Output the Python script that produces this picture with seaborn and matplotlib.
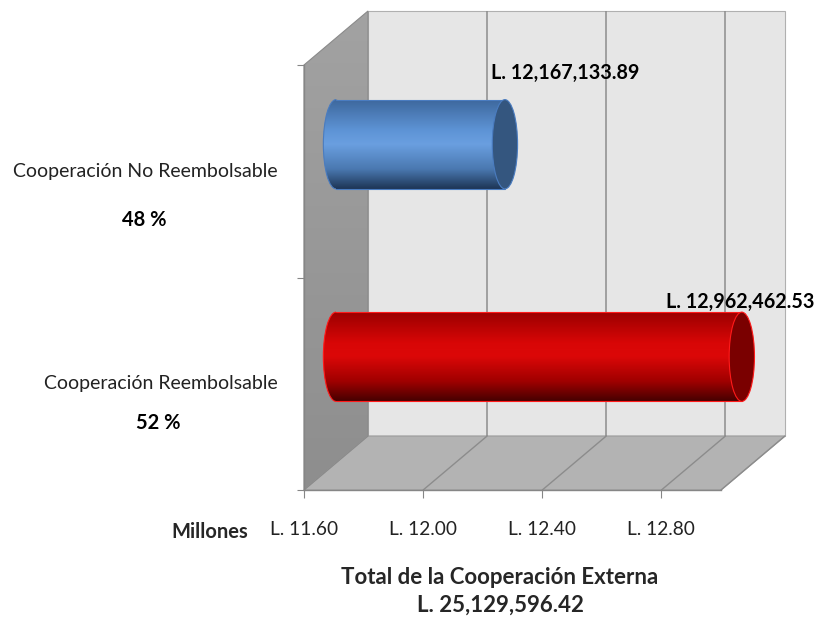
import numpy as np
import matplotlib
matplotlib.use('Agg')
import matplotlib.pyplot as plt
import matplotlib.transforms as mtransforms
from matplotlib.patches import Polygon, Ellipse, Arc, Rectangle
from matplotlib.colors import LinearSegmentedColormap
import seaborn as sns

# ---- data (millones de lempiras) ----
categories = ['Cooperación No Reembolsable', 'Cooperación Reembolsable']
shares = ['48 %', '52 %']
values = [12.16713389, 12.96246253]
value_labels = ['L. 12,167,133.89', 'L. 12,962,462.53']
xticks = [11.6, 12.0, 12.4, 12.8]
xtick_labels = ['L. 11.60', 'L. 12.00', 'L. 12.40', 'L. 12.80']
title_lines = ['Total de la Cooperación Externa', 'L. 25,129,596.42']
x_min, x_max = 11.6, 13.0

bar_gradients = [
    ['#3d679c', '#5e94d6', '#6a9fe0', '#4a78b0', '#1d3555'],
    ['#990000', '#d80606', '#dc0808', '#a00000', '#470000'],
]
cap_colors = ['#34567f', '#7a0000']
edge_colors = ['#4a7cc0', '#ff1a1a']

sns.set_style('white')
plt.rcParams['font.family'] = ['Lato', 'DejaVu Sans']

fig = plt.figure(figsize=(8.17, 6.21), dpi=100)
fig.patch.set_facecolor('white')
ax = fig.add_axes([304 / 817, 131 / 621, 417 / 817, 425 / 621])
ax.patch.set_visible(False)

sns.barplot(x=values, y=categories, hue=categories, palette=['#4f81bd', '#c00000'],
            width=0.42, legend=False, orient='y', ax=ax)
ax.set_xlim(x_min, x_max)
ax.set_ylim(1.5, -0.5)


def shifted(f):
    # depth offset of the fake 3D box (fraction of full depth)
    return ax.transData + mtransforms.ScaledTranslation(0.64 * f, 0.54 * f, fig.dpi_scale_trans)


mid = shifted(0.5)
back = shifted(1.0)
ident = mtransforms.IdentityTransform()


def pt(x, y, f):
    return shifted(f).transform((x, y))


# back wall, side wall, floor
ax.add_patch(Rectangle((x_min, -0.5), x_max - x_min, 2.0, transform=back, fc='#e6e6e6',
                       ec='#b0b0b0', lw=0.8, zorder=0.5, clip_on=False))
side = Polygon([pt(x_min, -0.5, 0), pt(x_min, 1.5, 0), pt(x_min, 1.5, 1), pt(x_min, -0.5, 1)],
               transform=ident, fc='none', ec='#8a8a8a', lw=0.8, zorder=0.7, clip_on=False)
ax.add_patch(side)
wall_cmap = LinearSegmentedColormap.from_list('wall', ['#a2a2a2', '#8e8e8e'])
(sx0, sy0), (sx1, sy1) = pt(x_min, 1.5, 0), pt(x_min, -0.5, 1)
wall = ax.imshow(np.linspace(0, 1, 64).reshape(-1, 1), cmap=wall_cmap, aspect='auto',
                 extent=[sx0, sx1, sy0, sy1], origin='upper', transform=ident, zorder=0.6)
wall.set_clip_box(fig.bbox)
wall.set_clip_path(side)
ax.add_patch(Polygon([pt(x_min, 1.5, 0), pt(x_max, 1.5, 0), pt(x_max, 1.5, 1), pt(x_min, 1.5, 1)],
                     transform=ident, fc='#b3b3b3', ec='#9a9a9a', lw=0.8, zorder=0.6, clip_on=False))

ax.vlines(xticks[1:], -0.5, 1.5, transform=back, colors='#8c8c8c', lw=1.1, zorder=1, clip_on=False)
for xv in xticks[1:] + [x_max]:
    a, b = pt(xv, 1.5, 0), pt(xv, 1.5, 1)
    ax.plot([a[0], b[0]], [a[1], b[1]], transform=ident, color='#8c8c8c', lw=1, zorder=1, clip_on=False)

# cylinders
grad = np.linspace(0, 1, 256).reshape(-1, 1)
patches = sorted([p for p in ax.patches if isinstance(p, Rectangle) and abs(p.get_height() - 0.42) < 1e-6],
                 key=lambda p: p.get_y())
for i, p in enumerate(patches):
    v = values[i]
    y0, h = p.get_y(), p.get_height()
    yc = y0 + h / 2
    cap_w = 0.085
    p.set_x(x_min)
    p.set_width(v - x_min)
    p.set_transform(mid)
    p.set_facecolor('none')
    p.set_edgecolor('none')
    p.set_clip_on(False)
    cmap = LinearSegmentedColormap.from_list('cyl%d' % i, list(zip([0, 0.35, 0.5, 0.78, 1], bar_gradients[i])))
    left_cap = Ellipse((x_min, yc), cap_w, h, transform=mid)
    for clip in (p, left_cap):
        im = ax.imshow(grad, cmap=cmap, extent=[x_min - cap_w, v, y0 + h, y0], aspect='auto',
                       transform=mid, zorder=3, interpolation='bicubic')
        im.set_clip_box(fig.bbox)
        im.set_clip_path(clip)
    ax.plot([x_min, v], [y0, y0], transform=mid, color=edge_colors[i], lw=0.8, zorder=4, clip_on=False)
    ax.plot([x_min, v], [y0 + h, y0 + h], transform=mid, color=edge_colors[i], lw=0.8, zorder=4, clip_on=False)
    ax.add_patch(Arc((x_min, yc), cap_w, h, theta1=90, theta2=270, transform=mid,
                     color=edge_colors[i], lw=0.8, zorder=4, clip_on=False))
    ax.add_patch(Ellipse((v, yc), cap_w, h, transform=mid, fc=cap_colors[i], ec=edge_colors[i],
                         lw=0.8, zorder=5, clip_on=False))

ax.set_xlim(x_min, x_max)
ax.set_ylim(1.5, -0.5)

# value labels
label_offsets = [(-14, 27), (-76, 10)]
for i, p in enumerate(patches):
    dx, dy = label_offsets[i]
    ax.annotate(value_labels[i], xy=(values[i], p.get_y()), xycoords=mid,
                xytext=(dx * 0.72, dy * 0.72), textcoords='offset points',
                ha='left', va='center', fontsize=14.2, fontweight='bold', color='black')

# axes lines and ticks
for s in ['top', 'right']:
    ax.spines[s].set_visible(False)
for s in ['left', 'bottom']:
    ax.spines[s].set_color('#868686')
    ax.spines[s].set_linewidth(1)
ax.set_yticks([-0.5, 0.5, 1.5])
ax.set_yticklabels([])
ax.set_xticks(xticks)
ax.set_xticklabels(xtick_labels)
ax.tick_params(axis='y', left=True, length=5, color='#868686')
ax.tick_params(axis='x', bottom=True, length=6, color='#868686', pad=16, labelsize=13.8, labelcolor='#222222')
ax.set_xlabel('')
ax.set_ylabel('')

# category labels with shares
share_offsets = [(-160, -49), (-146, -39)]
for i, cat in enumerate(categories):
    ax.annotate(cat, xy=(x_min, i), xycoords='data', xytext=(-26 * 0.72, 0), textcoords='offset points',
                ha='right', va='center', fontsize=14, color='#222222', annotation_clip=False)
    dx, dy = share_offsets[i]
    ax.annotate(shares[i], xy=(x_min, i), xycoords='data', xytext=(dx * 0.72, dy * 0.72),
                textcoords='offset points', ha='center', va='center', fontsize=14.5,
                fontweight='bold', color='black', annotation_clip=False)

ax.annotate('Millones', xy=(0, 0), xycoords='axes fraction', xytext=(-56 * 0.72, -42 * 0.72),
            textcoords='offset points', ha='right', va='center', fontsize=14.5, fontweight='bold')

fig.text(500 / 817, 1 - 577 / 621, title_lines[0], ha='center', va='center', fontsize=16, fontweight='bold')
fig.text(500 / 817, 1 - 605 / 621, title_lines[1], ha='center', va='center', fontsize=16, fontweight='bold')

fig.savefig('out.png', dpi=100)
